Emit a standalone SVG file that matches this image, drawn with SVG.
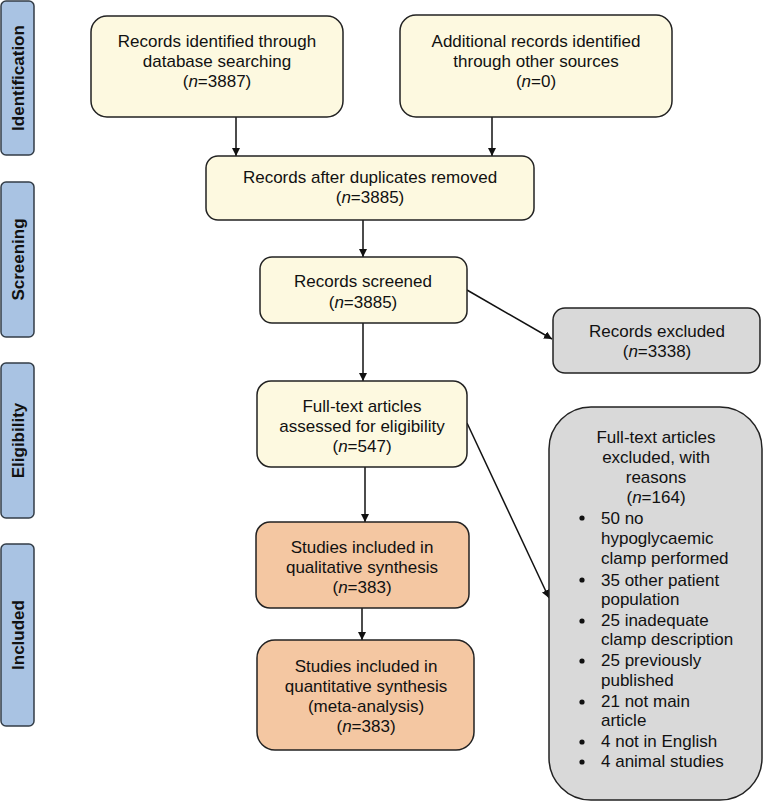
<svg xmlns="http://www.w3.org/2000/svg" width="763" height="804" viewBox="0 0 763 804">
<style>
.side{fill:#a9c3e3;stroke:#333d47;stroke-width:1.5}
.side-t{font-family:"Liberation Sans",Arial,sans-serif;font-size:17px;font-weight:bold;fill:#111;text-anchor:middle}
.y{fill:#fdf9e0;stroke:#222;stroke-width:1.5}
.o{fill:#f4c7a2;stroke:#222;stroke-width:1.5}
.g{fill:#d9d9d9;stroke:#222;stroke-width:1.5}
.t{font-family:"Liberation Sans",Arial,sans-serif;font-size:17px;fill:#111;text-anchor:middle}
.l{font-family:"Liberation Sans",Arial,sans-serif;font-size:17px;fill:#111}
.c{stroke:#111;stroke-width:1.5;fill:none;marker-end:url(#ah)}
</style>
<defs>
<marker id="ah" viewBox="0 0 10 10" refX="10" refY="5" markerWidth="8" markerHeight="8" markerUnits="userSpaceOnUse" orient="auto">
<path d="M0,0 L10,5 L0,10 z" fill="#111"/>
</marker>
</defs>
<rect width="763" height="804" fill="#fff"/>

<g id="side-identification">
<rect class="side" x="1" y="1" width="33" height="154" rx="5"/>
<text class="side-t" transform="translate(24,78) rotate(-90)">Identification</text>
</g>
<g id="side-screening">
<rect class="side" x="1" y="182" width="33" height="155" rx="5"/>
<text class="side-t" transform="translate(24,259.5) rotate(-90)">Screening</text>
</g>
<g id="side-eligibility">
<rect class="side" x="1" y="363" width="33" height="155" rx="5"/>
<text class="side-t" transform="translate(24,440.5) rotate(-90)">Eligibility</text>
</g>
<g id="side-included">
<rect class="side" x="1" y="544" width="33" height="182" rx="5"/>
<text class="side-t" transform="translate(24,635) rotate(-90)">Included</text>
</g>

<g id="connectors">
<line class="c" x1="236" y1="117" x2="236" y2="156"/>
<line class="c" x1="492" y1="117" x2="492" y2="156"/>
<line class="c" x1="363" y1="220" x2="363" y2="257"/>
<line class="c" x1="467" y1="290" x2="552" y2="339"/>
<line class="c" x1="363" y1="323" x2="363" y2="381"/>
<line class="c" x1="467" y1="423" x2="549" y2="598"/>
<line class="c" x1="365" y1="467" x2="365" y2="522"/>
<line class="c" x1="362" y1="608" x2="362" y2="640"/>
</g>

<g id="n-database">
<rect class="y" x="91" y="16" width="252" height="101" rx="16"/>
<text class="t" x="217" y="47">Records identified through</text>
<text class="t" x="217" y="67">database searching</text>
<text class="t" x="217" y="87">(<tspan font-style="italic">n</tspan>=3887)</text>
</g>

<g id="n-other">
<rect class="y" x="400" y="15" width="272" height="102" rx="16"/>
<text class="t" x="536" y="47">Additional records identified</text>
<text class="t" x="536" y="67">through other sources</text>
<text class="t" x="536" y="87">(<tspan font-style="italic">n</tspan>=0)</text>
</g>

<g id="n-duplicates">
<rect class="y" x="206" y="156" width="328" height="64" rx="12"/>
<text class="t" x="370" y="183">Records after duplicates removed</text>
<text class="t" x="370" y="203">(<tspan font-style="italic">n</tspan>=3885)</text>
</g>

<g id="n-screened">
<rect class="y" x="260" y="257" width="207" height="66" rx="12"/>
<text class="t" x="363" y="287">Records screened</text>
<text class="t" x="363" y="308">(<tspan font-style="italic">n</tspan>=3885)</text>
</g>

<g id="n-excluded">
<rect class="g" x="553" y="308" width="207" height="65" rx="12"/>
<text class="t" x="657" y="337">Records excluded</text>
<text class="t" x="657" y="357">(<tspan font-style="italic">n</tspan>=3338)</text>
</g>

<g id="n-fulltext">
<rect class="y" x="257" y="381" width="210" height="86" rx="14"/>
<text class="t" x="362" y="412">Full-text articles</text>
<text class="t" x="362" y="432">assessed for eligibility</text>
<text class="t" x="362" y="452">(<tspan font-style="italic">n</tspan>=547)</text>
</g>

<g id="n-qualitative">
<rect class="o" x="256" y="522" width="213" height="86" rx="14"/>
<text class="t" x="362" y="553">Studies included in</text>
<text class="t" x="362" y="573">qualitative synthesis</text>
<text class="t" x="362" y="593">(<tspan font-style="italic">n</tspan>=383)</text>
</g>

<g id="n-quantitative">
<rect class="o" x="257" y="640" width="217" height="110" rx="18"/>
<text class="t" x="366" y="672">Studies included in</text>
<text class="t" x="366" y="692">quantitative synthesis</text>
<text class="t" x="366" y="712">(meta-analysis)</text>
<text class="t" x="366" y="732">(<tspan font-style="italic">n</tspan>=383)</text>
</g>

<g id="n-fulltext-excluded">
<rect class="g" x="549" y="407" width="213" height="393" rx="42"/>
<text class="t" x="656" y="443">Full-text articles</text>
<text class="t" x="656" y="463">excluded, with</text>
<text class="t" x="656" y="483">reasons</text>
<text class="t" x="656" y="503">(<tspan font-style="italic">n</tspan>=164)</text>
<g fill="#111">
<circle cx="582" cy="518" r="2.6"/>
<circle cx="582" cy="580" r="2.6"/>
<circle cx="582" cy="621" r="2.6"/>
<circle cx="582" cy="661" r="2.6"/>
<circle cx="582" cy="702" r="2.6"/>
<circle cx="582" cy="742" r="2.6"/>
<circle cx="582" cy="762" r="2.6"/>
</g>
<text class="l" x="601" y="524">50 no</text>
<text class="l" x="601" y="544">hypoglycaemic</text>
<text class="l" x="601" y="564">clamp performed</text>
<text class="l" x="601" y="586">35 other patient</text>
<text class="l" x="601" y="605">population</text>
<text class="l" x="601" y="626">25 inadequate</text>
<text class="l" x="601" y="645">clamp description</text>
<text class="l" x="601" y="666">25 previously</text>
<text class="l" x="601" y="686">published</text>
<text class="l" x="601" y="707">21 not main</text>
<text class="l" x="601" y="726">article</text>
<text class="l" x="601" y="747">4 not in English</text>
<text class="l" x="601" y="767">4 animal studies</text>
</g>
</svg>
